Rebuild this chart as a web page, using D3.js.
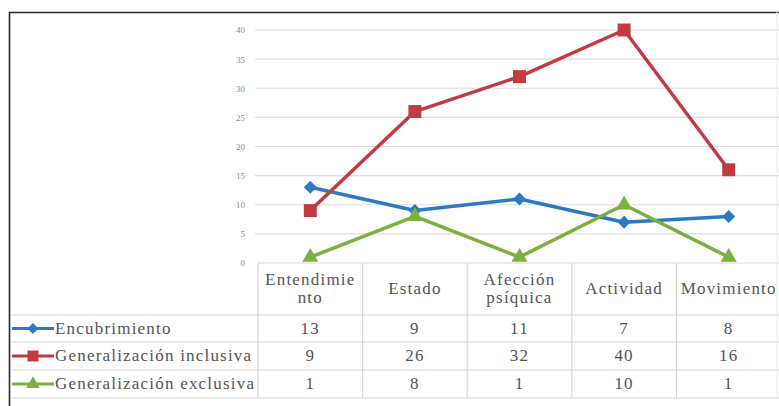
<!DOCTYPE html>
<html><head><meta charset="utf-8">
<script src="https://cdn.jsdelivr.net/npm/d3@7"></script>
<style>body{margin:0;background:#fff}svg{display:block}</style>
</head><body>
<svg id="c" width="779" height="406"></svg>
<script>
const categories = ["Entendimiento", "Estado", "Afección psíquica", "Actividad", "Movimiento"];
const categoryLines = [["Entendimie", "nto"], ["Estado"], ["Afección", "psíquica"], ["Actividad"], ["Movimiento"]];
const seriesNames = ["Encubrimiento", "Generalización inclusiva", "Generalización exclusiva"];
const encubrimiento = [13, 9, 11, 7, 8];
const genInclusiva = [9, 26, 32, 40, 16];
const genExclusiva = [1, 8, 1, 10, 1];
const yTicks = [0, 5, 10, 15, 20, 25, 30, 35, 40];
const colors = ["#2F78C2", "#C13B41", "#7DB040"];

const series = [encubrimiento, genInclusiva, genExclusiva];
const svg = d3.select("#c");
const FONT = "Liberation Serif";

const x = d3.scaleBand().domain(categories).range([258, 781]);
const y = d3.scaleLinear().domain([0, 40]).range([263, 30]);
const cxOf = i => x(categories[i]) + x.bandwidth() / 2;

function marker(s, k) {
  if (s === 0) return d3.symbol(d3.symbolSquare, 60 * k)();
  if (s === 1) return d3.symbol(d3.symbolSquare, 120 * k)();
  return d3.symbol(d3.symbolTriangle, 80 * k)();
}
const rot = [45, 0, 0];

// frame
svg.append("path").attr("d", "M9.5,406 V12.5 H779").attr("fill", "none").attr("stroke", "#2a2a2a").attr("stroke-width", 1.6);

// gridlines
svg.append("g").selectAll("line").data(yTicks.filter(t => t > 0)).join("line")
  .attr("x1", 255).attr("x2", 779).attr("y1", d => y(d)).attr("y2", d => y(d))
  .attr("stroke", "#dcdcdc").attr("stroke-width", 1.2);

// y axis labels
const yAxis = d3.axisLeft(y).tickValues(yTicks).tickSize(0).tickPadding(0);
const ya = svg.append("g").attr("transform", "translate(245,0)").call(yAxis);
ya.attr("font-family", FONT);
ya.select(".domain").remove();
ya.selectAll("text").attr("font-family", FONT).attr("font-size", 9).attr("fill", "#8a8a8a");

// table
const rowTops = [315, 342, 370, 398];
const tg = svg.append("g").attr("stroke", "#d6d6d6").attr("stroke-width", 1.2);
tg.append("line").attr("x1", 258).attr("x2", 779).attr("y1", y(0)).attr("y2", y(0));
rowTops.forEach(r => tg.append("line").attr("x1", 10).attr("x2", 779).attr("y1", r).attr("y2", r));
categories.forEach(c => tg.append("line").attr("x1", x(c)).attr("x2", x(c)).attr("y1", y(0)).attr("y2", 398));
tg.append("line").attr("x1", 777).attr("x2", 777).attr("y1", 12).attr("y2", 398).attr("stroke", "#eeeeee");

function label(xp, baseline, t, anchor) {
  svg.append("text").attr("x", xp).attr("y", baseline).attr("text-anchor", anchor)
    .attr("font-family", FONT).attr("font-size", 17).attr("letter-spacing", 1.2)
    .attr("fill", "#555").text(t);
}
// header
categoryLines.forEach((lines, i) => {
  lines.forEach((ln, j) => label(cxOf(i), 294 + (j - (lines.length - 1) / 2) * 18, ln, "middle"));
});

// rows
series.forEach((vals, s) => {
  const cy = (rowTops[s] + rowTops[s + 1]) / 2;
  svg.append("line").attr("x1", 12).attr("x2", 54).attr("y1", cy).attr("y2", cy).attr("stroke", colors[s]).attr("stroke-width", 3);
  svg.append("path").attr("d", marker(s, 1)).attr("transform", `translate(33,${cy}) rotate(${rot[s]})`).attr("fill", colors[s]);
  label(55, cy + 5, seriesNames[s], "start");
  vals.forEach((v, i) => label(cxOf(i), cy + 5, v, "middle"));
});

// lines
const line = d3.line().x((d, i) => cxOf(i)).y(d => y(d));
series.forEach((vals, s) => {
  svg.append("path").datum(vals).attr("d", line).attr("fill", "none").attr("stroke", colors[s]).attr("stroke-width", 3.5).attr("stroke-linejoin", "round");
  svg.append("g").selectAll("path").data(vals).join("path")
    .attr("d", marker(s, 1.4))
    .attr("transform", (d, i) => `translate(${cxOf(i)},${y(d)}) rotate(${rot[s]})`)
    .attr("fill", colors[s]);
});
</script>
</body></html>
